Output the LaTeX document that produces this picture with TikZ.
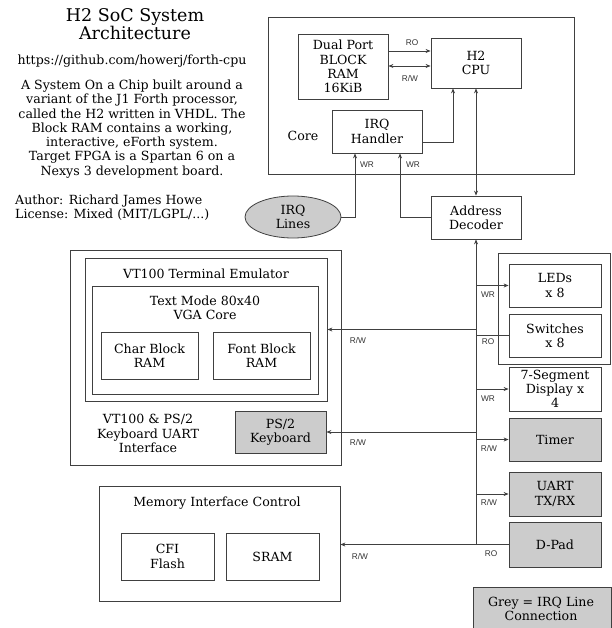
\documentclass[tikz,border=0pt]{standalone}
\usepackage{fontspec}
\setmainfont{DejaVu Serif}
\newfontfamily\labfont{Liberation Sans}
\usetikzlibrary{arrows.meta,shapes.geometric}
\definecolor{linec}{HTML}{404040}
\definecolor{irqgrey}{HTML}{CCCCCC}
\begin{document}
\begin{tikzpicture}[x=1pt,y=-1pt,
  every node/.style={font=\fontsize{12.6}{14.3}\selectfont, align=center, inner sep=0pt, text=black},
  blk/.style={draw=linec, line width=0.8pt, rectangle},
  irqblk/.style={blk, fill=irqgrey},
  wire/.style={draw=linec, line width=0.7pt},
  arr/.style={wire, -{Stealth[length=5pt,width=4pt]}},
  darr/.style={wire, {Stealth[length=5pt,width=4pt]}-{Stealth[length=5pt,width=4pt]}},
  sig/.style={font=\labfont\fontsize{8.3}{9}\selectfont, text=black!80}]
\useasboundingbox (0,0) rectangle (611,628);

% ---- description text ----
\node[font=\fontsize{17.5}{18.5}\selectfont] (title) at (135,24) {H2 SoC System\\Architecture};
\node (url) at (132,61) {https://github.com/howerj/forth-cpu};
\node (desc) at (132,129) {A System On a Chip built around a\\variant of the J1 Forth processor,\\called the H2 written in VHDL. The\\Block RAM contains a working,\\interactive, eForth system.\\Target FPGA is a Spartan 6 on a\\Nexys 3 development board.};
\node[align=left, anchor=west] (author) at (15,208) {Author: Richard James Howe\\License: Mixed (MIT/LGPL/...)};

% ---- core ----
\node[blk, minimum width=306, minimum height=157] (core) at (421,95.5) {};
\node (corelab) at (303,136) {Core};
\node[blk, minimum width=90, minimum height=65] (bram) at (343,66.5) {Dual Port\\BLOCK\\RAM\\16KiB};
\node[blk, minimum width=90, minimum height=50] (cpu) at (476,63) {H2\\CPU};
\node[blk, minimum width=90, minimum height=43] (irq) at (377,131.5) {IRQ\\Handler};

\node[blk, minimum width=90, minimum height=43] (addr) at (476,217.5) {Address\\Decoder};
\node[draw=linec, line width=0.8pt, fill=irqgrey, ellipse, minimum width=96, minimum height=42] (irqlines) at (293,217) {IRQ\\Lines};

% ---- peripherals on the right ----
\node[blk, minimum width=112, minimum height=111] (gpio) at (554,308.5) {};
\node[blk, minimum width=92, minimum height=43] (leds) at (555,285.5) {LEDs\\x 8};
\node[blk, minimum width=92, minimum height=43] (sw) at (555,335.5) {Switches\\x 8};
\node[blk, minimum width=92, minimum height=44] (seg) at (555,389) {7-Segment\\Display x\\4};
\node[irqblk, minimum width=92, minimum height=43] (timer) at (555,439.5) {Timer};
\node[irqblk, minimum width=92, minimum height=44] (uart) at (555,494) {UART\\TX/RX};
\node[irqblk, minimum width=92, minimum height=45] (dpad) at (555,544.5) {D-Pad};

% ---- VT100 / PS2 ----
\node[blk, minimum width=271, minimum height=215] (vtout) at (205.5,357.5) {};
\node[blk, minimum width=242, minimum height=143] (vtterm) at (206,329.5) {};
\node (vttitle) at (206,274) {VT100 Terminal Emulator};
\node[blk, minimum width=226, minimum height=108] (vga) at (205,340) {};
\node (vgatitle) at (205,308) {Text Mode 80x40\\VGA Core};
\node[blk, minimum width=97, minimum height=47] (charram) at (149.5,355.5) {Char Block\\RAM};
\node[blk, minimum width=97, minimum height=47] (fontram) at (261.5,355.5) {Font Block\\RAM};
\node (vtlab) at (148,433.5) {VT100 \& PS/2\\Keyboard UART\\Interface};
\node[irqblk, minimum width=91, minimum height=42] (ps2) at (280.5,432) {PS/2\\Keyboard};

% ---- memory interface ----
\node[blk, minimum width=241, minimum height=115] (mem) at (219.5,543.5) {};
\node (memtitle) at (217,503) {Memory Interface Control};
\node[blk, minimum width=93, minimum height=47] (cfi) at (167.5,556.5) {CFI\\Flash};
\node[blk, minimum width=93, minimum height=47] (sram) at (272.5,556.5) {SRAM};

% ---- legend ----
\node[irqblk, minimum width=138, minimum height=46, anchor=north west] (legend) at (472.5,587) {};
\node (legendtxt) at (541,609) {Grey = IRQ Line\\Connection};

% ---- connectors inside the core ----
\draw[arr] (bram.east |- 0,51) -- (cpu.west |- 0,51);
\draw[darr] (bram.east |- 0,66) -- (cpu.west |- 0,66);
\draw[arr] (irq.east |- 0,142) -| (cpu.south -| 453,0);
\draw[darr] (cpu.south) -- (addr.north);
\draw[arr] (irqlines.east) -| (irq.south -| 355,0);
\draw[arr] (addr.west) -| (irq.south -| 400,0);

% ---- system bus ----
\draw[arr] (addr.south |- dpad.west) -- (addr.south);
\draw[arr] (addr.south |- leds.west) -- (leds.west);
\draw[wire] (sw.west) -- (addr.south |- sw.west);
\draw[arr] (addr.south |- vtterm.east) -- (vtterm.east);
\draw[arr] (addr.south |- seg.west) -- (seg.west);
\draw[arr] (addr.south |- timer.west) -- (timer.west);
\draw[arr] (addr.south |- ps2.east) -- (ps2.east);
\draw[arr] (addr.south |- uart.west) -- (uart.west);
\draw[arr] (dpad.west) -- (mem.east |- dpad.west);

% ---- signal labels ----
\node[sig] (l1) at (412,43) {RO};
\node[sig] (l2) at (410,79) {R/W};
\node[sig] (l3) at (367,165) {WR};
\node[sig] (l4) at (413,165) {WR};
\node[sig] (l5) at (488,295) {WR};
\node[sig] (l6) at (488,342) {RO};
\node[sig] (l7) at (358,341) {R/W};
\node[sig] (l8) at (488,399) {WR};
\node[sig] (l9) at (489,449) {R/W};
\node[sig] (l10) at (358,443) {R/W};
\node[sig] (l11) at (489,503) {R/W};
\node[sig] (l12) at (491,554) {RO};
\node[sig] (l13) at (360,557) {R/W};
\end{tikzpicture}
\end{document}
